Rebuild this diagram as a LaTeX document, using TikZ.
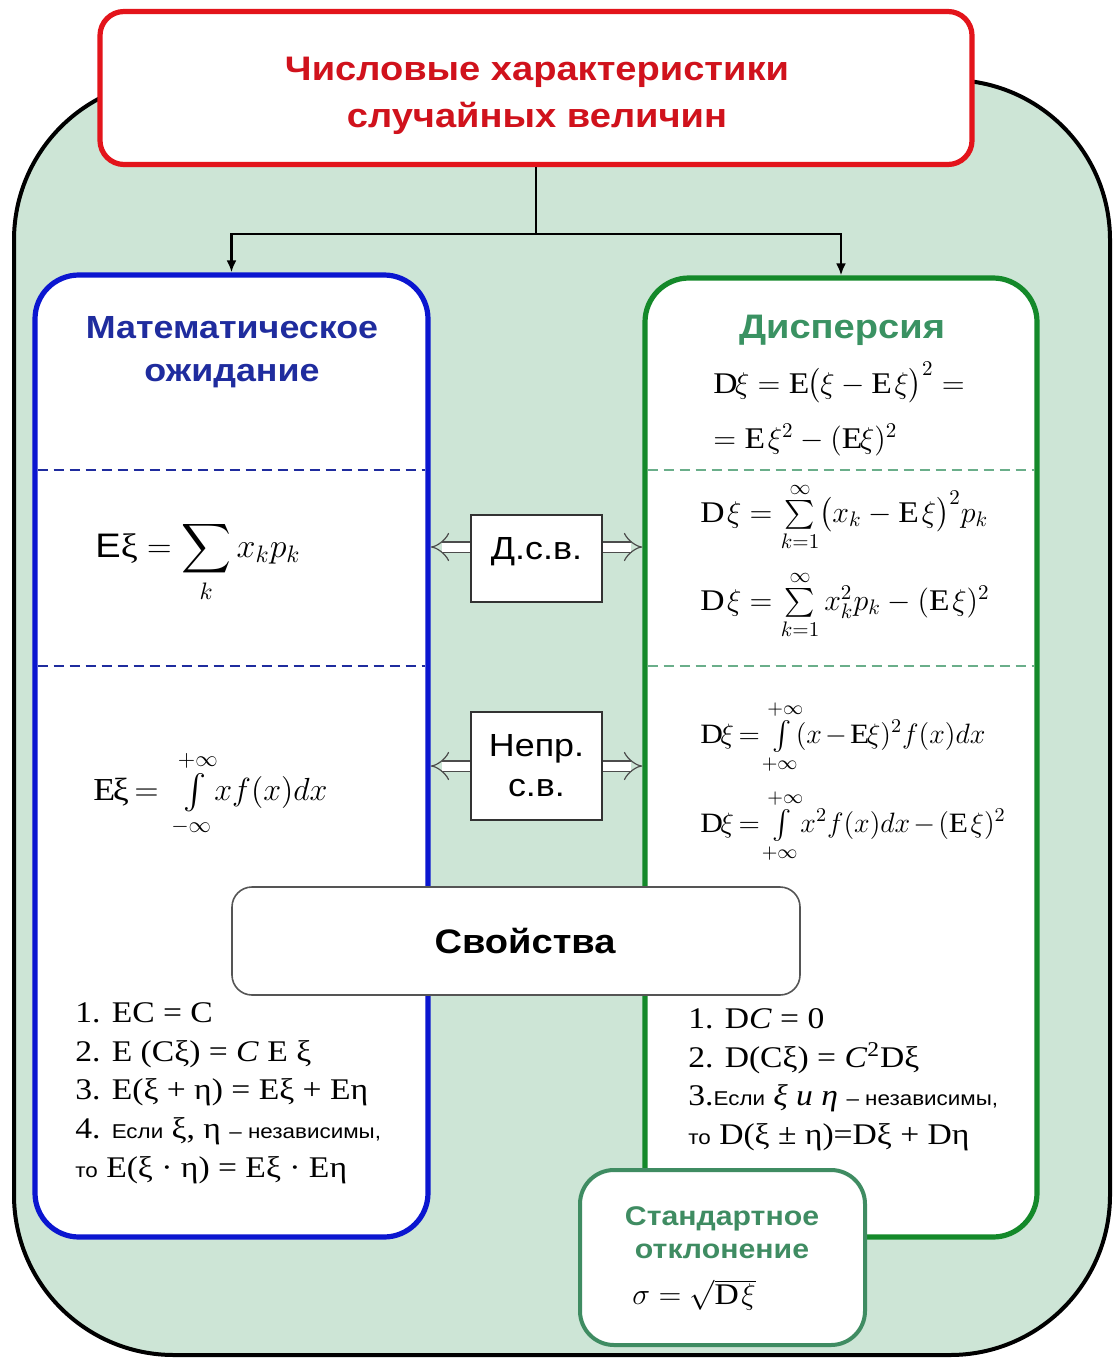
\documentclass[tikz,border=0pt]{standalone}
\usepackage{fix-cm}
\usepackage{exscale}
\usepackage{fontspec}
\setmainfont{Liberation Serif}[FakeStretch=1.12]
\setsansfont{Liberation Sans}[FakeStretch=1.12]
\usepackage{tikz}
\usepackage{xcolor}
\usetikzlibrary{arrows.meta,positioning,calc}
\definecolor{BgMint}{HTML}{CDE5D6}
\definecolor{TitleRed}{HTML}{E3141B}
\definecolor{TitleText}{HTML}{D0121C}
\definecolor{MeanBlue}{HTML}{0B16D0}
\definecolor{MeanText}{HTML}{1F2C9E}
\definecolor{DispGreen}{HTML}{14892A}
\definecolor{DispText}{HTML}{3A9262}
\definecolor{SigmaGreen}{HTML}{3F8C62}
\definecolor{DashGreen}{HTML}{6AAE8A}
\definecolor{Muted}{HTML}{555555}
\newcommand\smallsans{\sffamily\fontsize{10}{14}\selectfont}
\newcommand\tightmath{\thickmuskip=3mu plus 2mu\medmuskip=2mu plus 1mu}
\tikzset{
  heading/.style={font=\sffamily\bfseries\fontsize{17}{23.5}\selectfont, align=center},
  titlebox/.style={rounded corners=12pt, draw=TitleRed, fill=white, line width=2.6pt, minimum width=436pt, minimum height=76.5pt},
  meanbox/.style={rounded corners=22pt, draw=MeanBlue, fill=white, line width=2.6pt, minimum width=196.5pt, minimum height=481pt},
  dispbox/.style={rounded corners=22pt, draw=DispGreen, fill=white, line width=2.6pt, minimum width=196pt, minimum height=479.5pt},
  typebox/.style={draw=black!80, fill=white, line width=0.8pt, minimum width=65.5pt, align=center, font=\sffamily\fontsize{16}{20}\selectfont},
  propbox/.style={rounded corners=10pt, draw=Muted, fill=white, line width=0.8pt, minimum width=284pt, minimum height=54pt},
  sigmabox/.style={rounded corners=17pt, draw=SigmaGreen, fill=white, line width=2pt, minimum width=142.5pt, minimum height=87.5pt},
  formula/.style={inner sep=0pt, font=\fontsize{15}{19.4}\selectfont},
  intformula/.style={inner sep=0pt, font=\fontsize{14}{19.4}\selectfont\tightmath},
  fork/.style={line width=1.2pt, draw=black},
  forkarrow/.style={fork, -{Latex[length=6pt,width=5pt]}},
  hollow/.style={draw=black!70, double=white, double distance=4.5pt, line width=0.6pt, -{Implies}},
  meandash/.style={dash pattern=on 5pt off 3pt, line width=0.8pt, draw=MeanText, shorten <=2.6pt, shorten >=2.6pt},
  dispdash/.style={dash pattern=on 5pt off 3pt, line width=0.8pt, draw=DashGreen, shorten <=2.6pt, shorten >=2.6pt}
}

\begin{document}
\begin{tikzpicture}[x=0.5pt, y=-0.5pt]
  \useasboundingbox (0,0) rectangle (1118,1363);
  % background
  \draw[fill=BgMint, line width=2pt, rounded corners=80pt] (14,80) rectangle (1110,1355);

  \node[titlebox] (title) at (536,88) {};
  \node[heading, text=TitleText] (titletext) at (537,96) {Числовые характеристики\\случайных величин};
  \node[meanbox] (mean) at (231.5,756) {};
  \node[dispbox] (disp) at (841,757.5) {};

  \draw[fork] (title.south) -- ++(0,67) coordinate (split);
  \draw[forkarrow] (split) -| (mean.north);
  \draw[forkarrow] (split) -| (disp.north);

  \foreach \yy in {470,666} {
    \draw[meandash] (mean.west |- 0,\yy) -- (mean.east |- 0,\yy);
    \draw[dispdash] (disp.west |- 0,\yy) -- (disp.east |- 0,\yy);
  }

  % headings
  \node[heading, text=MeanText, font=\sffamily\bfseries\fontsize{16}{21.5}\selectfont] (meantitle) at (232,352) {Математическое\\ожидание};
  \node[heading, text=DispText] (disptitle) at (842,330) {Дисперсия};

  % expectation
  \node[formula, anchor=west, font=\fontsize{17}{20}\selectfont] (msum) at (95,562) {$\textsf{E}\textrm{ξ} = \displaystyle\sum_k x_k p_k$};
  \node[intformula, anchor=west, font=\fontsize{16}{20}\selectfont\tightmath] (mint) at (93,794) {$\mathrm{E}\textrm{ξ} =\;\; \int\limits_{-\infty}^{+\infty}\! x f(x)dx$};

  % variance
  \node[formula, anchor=west] (dvar1) at (713,383) {$\mathrm{D}\xi = \mathrm{E}\bigl(\xi-\mathrm{E}\,\xi\bigr)^2 =$};
  \node[formula, anchor=west] (dvar2) at (713,440) {$= \mathrm{E}\,\xi^2 - (\mathrm{E}\xi)^2$};
  \node[formula, anchor=west] (dsum1) at (700,517) {$\mathrm{D}\,\xi = \sum\limits_{k=1}^{\infty}\bigl(x_k-\mathrm{E}\,\xi\bigr)^2 p_k$};
  \node[formula, anchor=west] (dsum2) at (700,605) {$\mathrm{D}\,\xi = \sum\limits_{k=1}^{\infty} x_k^2 p_k - (\mathrm{E}\,\xi)^2$};
  \node[intformula, anchor=west] (dint1) at (700,737) {$\mathrm{D}\xi = \int\limits_{+\infty}^{+\infty}\!(x-\mathrm{E}\xi)^2 f(x)dx$};
  \node[intformula, anchor=west] (dint2) at (700,826) {$\mathrm{D}\xi = \int\limits_{+\infty}^{+\infty}\! x^2 f(x)dx - (\mathrm{E}\,\xi)^2$};

  % discrete / continuous
  \node[typebox, text height=18pt, text depth=17.5pt, inner ysep=4pt] (dsv) at (536.5,558.5) {Д.с.в.};
  \node[typebox, minimum height=54pt] (nepr) at (536.5,766) {Непр.\\с.в.};
  \path ([yshift=5.75pt]dsv.west) coordinate (dl) ([yshift=5.75pt]dsv.east) coordinate (dr);
  \draw[hollow] (dl) -- (dl -| mean.east);
  \draw[hollow] (dr) -- (dr -| disp.west);
  \draw[hollow] (nepr.west) -- (nepr.west -| mean.east);
  \draw[hollow] (nepr.east) -- (nepr.east -| disp.west);

  % properties
  \node[propbox] (props) at (516,941) {};
  \node[heading] (propstext) at (525,941) {Свойства};
  \node[formula, anchor=north west, align=left] (mprops) at (75,1002) {1. EC = C\\2. E (Cξ) = \textit{C} E ξ\\3. E(ξ + η) = Eξ + Eη\\4. {\smallsans Если} ξ, η {\smallsans – независимы,}\\{\smallsans то} E(ξ · η) = Eξ · Eη};
  \node[formula, anchor=north west, align=left] (dprops) at (688,1008) {1. D\textit{C} = 0\\2. D(Cξ) = \textit{C}\textsuperscript{2}Dξ\\3.{\smallsans Если} \textit{ξ и η} {\smallsans – независимы,}\\{\smallsans то} D(ξ ± η)=Dξ + Dη};

  % standard deviation
  \node[sigmabox] (sigma) at (722.5,1257.5) {};
  \node[heading, text=SigmaGreen, font=\sffamily\bfseries\fontsize{13.5}{16.5}\selectfont] (sigmatitle) at (722,1233) {Стандартное\\отклонение};
  \node[formula, anchor=west] (sigmaform) at (632,1295) {$\sigma = \sqrt{\mathrm{D}\,\xi}$};
\end{tikzpicture}
\end{document}
